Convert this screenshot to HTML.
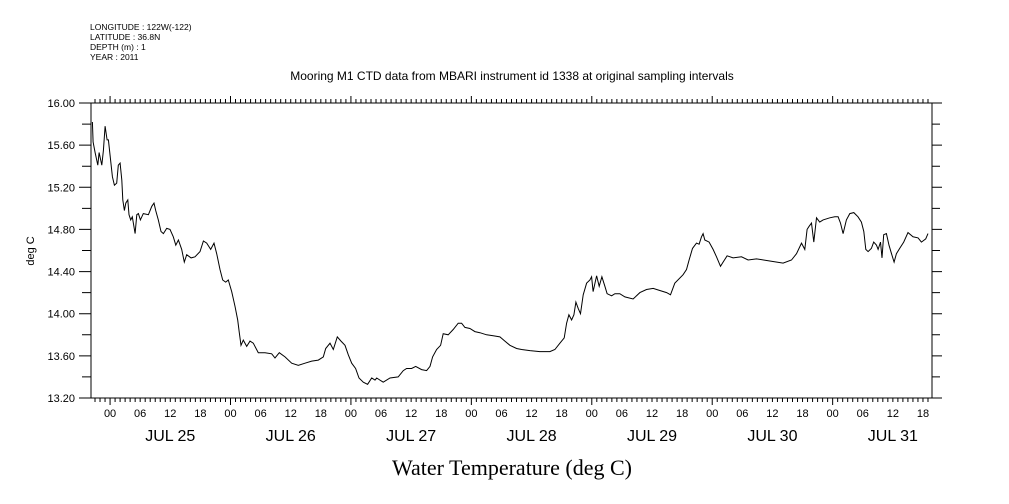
<!DOCTYPE html>
<html><head><meta charset="utf-8"><style>
body{margin:0;background:#fff;}
svg{display:block;font-family:"Liberation Sans",sans-serif;}
</style></head><body>
<svg id="chart" width="1009" height="504" viewBox="0 0 1009 504">
<g font-size="8.5" fill="#000">
<text x="90" y="30">LONGITUDE : 122W(-122)</text>
<text x="90" y="40">LATITUDE : 36.8N</text>
<text x="90" y="50">DEPTH (m) : 1</text>
<text x="90" y="60">YEAR : 2011</text>
</g>
<text x="512" y="80" text-anchor="middle" font-size="12">Mooring M1 CTD data from MBARI instrument id 1338 at original sampling intervals</text>
<text x="512" y="475" text-anchor="middle" font-size="22" font-family="Liberation Serif, serif">Water Temperature (deg C)</text>
<text x="0" y="0" transform="translate(34,251) rotate(-90)" text-anchor="middle" font-size="11">deg C</text>
<g id="axes"></g>
<g id="plot"></g>
</svg>
<script>
const hours=[-3.53,-3.39,-2.99,-2.45,-2.19,-1.65,-1.33,-1.00,-0.60,-0.34,0.46,0.86,1.33,1.65,1.99,2.33,2.53,2.85,3.13,3.53,3.78,4.12,4.44,4.98,5.32,5.64,6.04,6.63,7.63,8.31,8.76,9.10,9.62,10.16,10.62,11.29,11.95,12.61,13.09,13.61,14.28,14.80,15.28,16.14,16.93,17.93,18.59,19.26,20.06,20.72,21.25,21.91,22.45,23.05,23.57,24.24,24.90,25.44,25.76,26.10,26.55,27.23,27.89,28.55,29.54,30.88,32.21,32.87,33.73,34.86,36.20,37.51,38.84,40.18,41.49,42.49,42.97,43.82,44.48,45.28,46.02,46.81,47.47,48.15,48.94,49.60,50.46,51.33,52.13,52.79,53.13,54.44,55.78,57.43,58.43,59.10,60.10,60.90,62.09,63.09,63.75,64.28,65.08,65.88,66.39,67.39,68.39,69.38,70.06,70.72,71.71,72.71,73.71,75.04,76.35,77.69,78.69,79.68,81.02,82.01,83.67,85.66,87.65,88.65,89.64,90.50,90.98,91.43,91.97,92.43,92.83,93.29,93.76,94.28,94.96,95.62,95.96,96.27,96.95,97.47,98.01,98.61,99.06,99.94,100.60,101.59,102.59,104.24,105.58,106.91,108.23,109.56,110.90,111.69,112.55,114.20,114.88,115.40,116.08,116.87,117.39,117.87,118.19,118.53,119.38,120.18,120.86,121.65,122.17,122.97,124.16,125.84,127.15,128.82,131.47,134.12,135.80,136.79,137.79,138.45,138.90,139.30,139.78,140.24,140.78,141.43,142.09,143.43,144.42,145.08,145.56,146.08,146.75,147.41,148.21,149.06,149.74,150.20,150.60,151.06,151.73,152.19,152.73,153.05,153.53,153.84,154.18,154.72,155.24,155.72,156.24,156.71,157.37,158.17,159.02,160.02,161.02,161.69,162.55,163.01];
const temps=[15.82,15.63,15.53,15.41,15.53,15.41,15.55,15.78,15.65,15.65,15.30,15.22,15.24,15.41,15.43,15.27,15.08,14.98,15.05,15.08,14.94,14.89,14.92,14.76,14.94,14.95,14.89,14.95,14.94,15.02,15.05,14.98,14.89,14.78,14.76,14.81,14.80,14.73,14.65,14.70,14.61,14.49,14.56,14.53,14.54,14.59,14.69,14.67,14.61,14.67,14.57,14.42,14.32,14.30,14.32,14.21,14.07,13.94,13.82,13.70,13.75,13.69,13.74,13.72,13.63,13.63,13.62,13.58,13.63,13.59,13.53,13.51,13.53,13.55,13.56,13.59,13.67,13.72,13.66,13.78,13.74,13.70,13.61,13.53,13.48,13.39,13.35,13.33,13.39,13.37,13.39,13.35,13.39,13.40,13.46,13.48,13.48,13.50,13.47,13.46,13.50,13.59,13.66,13.70,13.81,13.80,13.85,13.91,13.91,13.87,13.86,13.83,13.82,13.80,13.79,13.78,13.74,13.70,13.67,13.66,13.65,13.64,13.64,13.66,13.72,13.77,13.91,13.99,13.94,13.99,14.11,14.05,14.00,14.18,14.29,14.32,14.35,14.21,14.36,14.26,14.35,14.26,14.19,14.17,14.19,14.19,14.16,14.14,14.20,14.23,14.24,14.22,14.20,14.18,14.29,14.37,14.42,14.51,14.62,14.67,14.66,14.73,14.76,14.70,14.68,14.61,14.54,14.45,14.49,14.55,14.53,14.54,14.51,14.52,14.50,14.48,14.51,14.57,14.67,14.61,14.80,14.83,14.86,14.68,14.91,14.87,14.89,14.91,14.92,14.92,14.86,14.76,14.89,14.95,14.96,14.92,14.87,14.78,14.61,14.59,14.62,14.68,14.65,14.61,14.68,14.53,14.75,14.76,14.65,14.57,14.49,14.57,14.62,14.68,14.77,14.73,14.72,14.68,14.71,14.76];
const yTickLabels=["16.00","15.60","15.20","14.80","14.40","14.00","13.60","13.20"];
const dayLabels=["JUL 25","JUL 26","JUL 27","JUL 28","JUL 29","JUL 30","JUL 31"];
const hourLabels=["00","06","12","18"];

const X0=91,X1=932,Y0=103,Y1=398,HMIN=-3.8,HMAX=163.8,TMIN=13.2,TMAX=16.0;
const sx=h=>X0+(h-HMIN)/(HMAX-HMIN)*(X1-X0);
const sy=t=>Y1-(t-TMIN)/(TMAX-TMIN)*(Y1-Y0);
const NS="http://www.w3.org/2000/svg";
const axes=document.getElementById('axes'),plot=document.getElementById('plot');
function mk(tag,attrs,parent){const e=document.createElementNS(NS,tag);for(const k in attrs)e.setAttribute(k,attrs[k]);parent.appendChild(e);return e;}

const frame=mk('rect',{x:X0,y:Y0,width:X1-X0,height:Y1-Y0,fill:'none',stroke:'#000','stroke-width':1},axes);



let tk='';
for(let i=0;i<=14;i++){const t=TMAX-i*0.2;const y=sy(t);const major=i%2===0;
 tk+=`M${X0-(major?12:9)},${y}H${X0}M${X1},${y}H${X1+(major?10:8)}`;}
for(let h=Math.ceil(HMIN);h<=HMAX;h++){const x=sx(h);const major=((h%24)+24)%24===0;
 tk+=`M${x},${Y1}V${Y1+(major?7:4)}M${x},${Y0}V${Y0-(major?7:4)}`;}
const ticks=mk('path',{d:tk,stroke:'#000','stroke-width':1,fill:'none'},axes);



yTickLabels.forEach(s=>{const e=mk('text',{x:X0-16,y:sy(parseFloat(s))+4,'text-anchor':'end','font-size':11},axes);e.textContent=s;
 
 });

for(let d=-1;d<7;d++){hourLabels.forEach((s,i)=>{const h=d*24+i*6;if(h<HMIN||h>HMAX)return;
 const e=mk('text',{x:sx(h),y:417,'text-anchor':'middle','font-size':11},axes);e.textContent=s;
 
 });}
dayLabels.forEach((s,i)=>{const e=mk('text',{x:sx(i*24+12),y:441,'text-anchor':'middle','font-size':16},axes);e.textContent=s;
 
 });

const line=mk('path',{d:hours.map((h,i)=>(i?'L':'M')+sx(h).toFixed(1)+','+sy(temps[i]).toFixed(1)).join(''),fill:'none',stroke:'#000','stroke-width':1},plot);


</script>
</body></html>
